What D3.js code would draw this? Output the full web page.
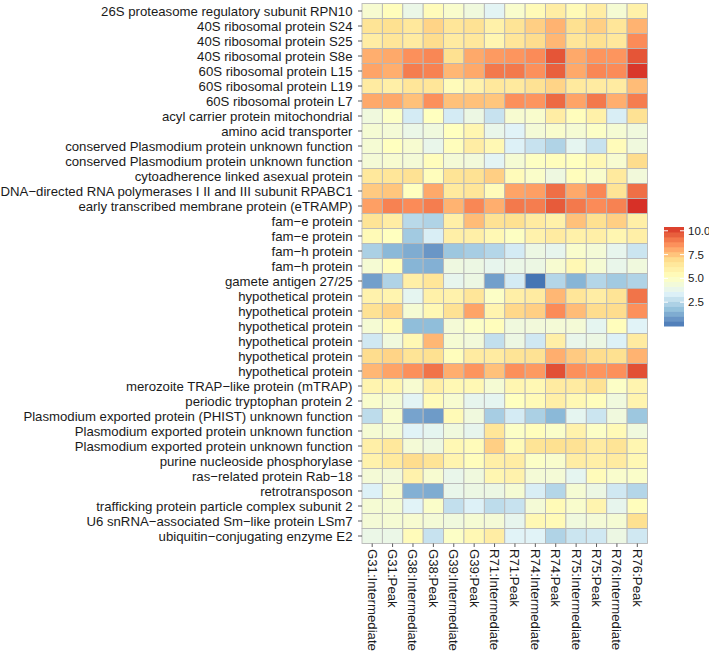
<!DOCTYPE html>
<html>
<head>
<meta charset="utf-8">
<script src="https://cdn.jsdelivr.net/npm/d3@7"></script>
<style>
  html, body { margin: 0; padding: 0; background: #ffffff; }
  svg { display: block; font-family: "Liberation Sans", Arial, sans-serif; }
</style>
</head>
<body>
<svg id="chart" width="709" height="654"></svg>
<script>
const samples = ["G31:Intermediate","G31:Peak","G38:Intermediate","G38:Peak","G39:Intermediate","G39:Peak",
  "R71:Intermediate","R71:Peak","R74:Intermediate","R74:Peak","R75:Intermediate","R75:Peak","R76:Intermediate","R76:Peak"];

const genes = [
  "26S proteasome regulatory subunit RPN10",
  "40S ribosomal protein S24",
  "40S ribosomal protein S25",
  "40S ribosomal protein S8e",
  "60S ribosomal protein L15",
  "60S ribosomal protein L19",
  "60S ribosomal protein L7",
  "acyl carrier protein mitochondrial",
  "amino acid transporter",
  "conserved Plasmodium protein unknown function",
  "conserved Plasmodium protein unknown function",
  "cytoadherence linked asexual protein",
  "DNA−directed RNA polymerases I II and III subunit RPABC1",
  "early transcribed membrane protein (eTRAMP)",
  "fam−e protein",
  "fam−e protein",
  "fam−h protein",
  "fam−h protein",
  "gamete antigen 27/25",
  "hypothetical protein",
  "hypothetical protein",
  "hypothetical protein",
  "hypothetical protein",
  "hypothetical protein",
  "hypothetical protein",
  "merozoite TRAP−like protein (mTRAP)",
  "periodic tryptophan protein 2",
  "Plasmodium exported protein (PHIST) unknown function",
  "Plasmodium exported protein unknown function",
  "Plasmodium exported protein unknown function",
  "purine nucleoside phosphorylase",
  "ras−related protein Rab−18",
  "retrotransposon",
  "trafficking protein particle complex subunit 2",
  "U6 snRNA−associated Sm−like protein LSm7",
  "ubiquitin−conjugating enzyme E2"
];

// expression values, one row per gene, one column per sample
const values = [
  [4.7,5.3,4.0,5.4,4.8,4.3,3.6,4.8,5.5,6.2,5.5,6.2,4.6,6.0],
  [6.7,6.9,6.5,7.2,6.6,6.8,6.0,6.7,7.3,7.9,6.9,7.3,6.6,7.9],
  [6.2,6.6,6.3,7.0,6.3,6.5,5.7,6.6,7.0,7.8,6.6,6.9,6.5,8.7],
  [8.0,8.1,8.6,8.8,6.9,8.1,8.4,8.5,8.7,9.8,8.1,8.5,8.5,9.8],
  [8.2,8.0,9.0,8.9,7.8,8.1,9.1,9.1,8.6,9.6,8.1,8.8,8.7,10.3],
  [6.3,6.1,6.6,6.6,5.4,5.9,6.5,6.4,6.8,7.2,6.4,6.3,6.3,7.7],
  [8.1,8.1,7.6,8.6,7.6,7.6,7.5,8.6,8.5,9.4,8.2,9.1,8.0,9.0],
  [4.3,5.0,3.2,5.2,3.2,4.1,2.9,4.7,4.8,6.2,5.3,6.0,3.3,6.8],
  [4.6,4.5,4.0,4.3,5.2,5.7,3.9,3.5,4.5,4.8,4.6,5.0,4.6,4.3],
  [4.6,5.2,4.7,3.9,5.3,6.2,5.6,3.4,2.9,2.4,3.7,2.9,5.4,4.3],
  [4.5,4.7,4.5,5.3,4.5,4.4,3.6,4.6,5.1,5.3,5.2,5.6,4.7,7.0],
  [6.5,6.6,6.8,5.3,6.7,6.8,7.3,5.4,4.9,4.2,5.3,4.8,6.4,4.4],
  [7.4,7.5,5.2,8.1,6.4,6.6,5.4,8.2,8.3,9.3,8.1,8.8,6.7,9.3],
  [8.3,8.9,8.7,9.0,7.9,8.8,8.0,9.1,9.0,9.7,9.1,8.7,8.9,10.4],
  [6.7,6.2,2.6,2.4,6.1,7.7,6.8,6.9,6.3,6.0,7.6,6.9,7.3,6.1],
  [5.5,5.2,2.1,3.3,6.1,6.1,5.6,5.1,5.9,6.3,6.0,6.1,5.7,6.1],
  [2.3,1.6,1.3,0.8,2.0,2.2,2.5,3.2,4.1,3.8,4.8,4.5,3.8,3.0],
  [4.6,5.3,1.5,1.4,4.2,4.1,3.8,4.0,4.1,4.7,5.6,4.6,3.9,4.3],
  [1.0,2.4,6.1,6.6,3.8,4.1,1.0,3.2,0.0,2.5,1.5,2.5,2.1,2.4],
  [5.9,5.8,3.7,6.0,5.9,6.6,5.0,6.1,6.3,7.8,6.6,6.2,6.7,9.2],
  [6.8,7.2,4.6,5.6,6.8,8.2,5.8,7.1,7.3,8.7,7.7,7.0,7.0,8.6],
  [4.6,5.4,1.7,1.7,4.5,5.0,5.3,4.3,4.4,4.5,4.5,3.7,5.3,3.5],
  [3.1,4.3,5.6,7.8,4.6,4.4,2.8,4.1,3.1,6.1,3.9,4.1,3.4,6.3],
  [7.0,7.2,6.7,6.9,5.3,6.3,6.3,6.7,6.8,8.0,7.4,7.0,6.9,7.9],
  [7.8,8.2,8.6,9.2,8.0,8.5,7.6,8.6,8.4,9.9,8.6,8.5,8.6,9.9],
  [5.8,5.7,4.7,6.1,5.6,5.6,4.6,5.7,5.6,6.3,6.3,6.8,5.0,5.8],
  [4.8,4.6,3.6,5.4,4.7,3.8,3.7,5.2,5.5,6.1,5.6,5.3,4.3,5.8],
  [2.7,4.8,1.1,0.9,5.5,4.3,2.2,3.2,2.3,1.6,3.7,3.0,4.3,2.0],
  [4.6,4.6,3.5,3.7,4.3,3.8,6.6,5.0,5.3,4.9,5.9,5.0,5.5,4.3],
  [6.1,6.5,4.5,4.2,5.6,5.4,7.3,5.5,6.7,6.9,6.8,6.3,6.7,5.7],
  [5.9,6.4,7.0,6.7,5.8,5.3,6.1,6.2,5.0,4.8,6.2,6.1,6.3,5.6],
  [4.5,4.4,5.9,4.7,3.9,4.3,5.7,5.9,4.5,4.5,3.7,5.4,4.8,4.9],
  [3.4,4.7,1.4,1.3,3.9,4.1,4.1,4.6,3.3,2.5,4.6,4.1,3.1,2.5],
  [4.6,4.6,3.5,4.9,2.8,3.4,2.7,2.9,4.5,5.5,4.8,5.8,3.8,5.3],
  [4.5,4.6,4.7,4.5,4.3,4.6,4.5,3.8,5.6,5.5,4.3,4.5,4.6,6.9],
  [4.0,4.0,5.4,2.9,5.0,5.6,6.2,3.5,3.5,2.4,3.0,3.1,4.1,3.1]
];

const legendBreaks = [2.5, 5.0, 7.5, 10.0];
const paletteColors = ["#4575b4","#91bfdb","#e0f3f8","#ffffbf","#fee090","#fc8d59","#d73027"];

const svg = d3.select("#chart");
const margin = {left: 362, top: 3.5, right: 709 - 647.5, bottom: 654 - 543.5};
const W = 709 - margin.left - margin.right;
const H = 654 - margin.top - margin.bottom;

const cells = [];
values.forEach((row, i) => row.forEach((v, j) => cells.push({r: i, c: j, v})));

const x = d3.scaleBand().domain(d3.range(samples.length)).range([margin.left, margin.left + W]);
const y = d3.scaleBand().domain(d3.range(genes.length)).range([margin.top, margin.top + H]);

const ext = d3.extent(cells, d => d.v);
const color = d3.scaleLinear()
  .domain(d3.range(paletteColors.length).map(k => ext[0] + (ext[1] - ext[0]) * k / (paletteColors.length - 1)))
  .range(paletteColors)
  .interpolate(d3.interpolateLab);

svg.append("g").selectAll("rect").data(cells).join("rect")
  .attr("x", d => x(d.c))
  .attr("y", d => y(d.r))
  .attr("width", x.bandwidth())
  .attr("height", y.bandwidth())
  .attr("fill", d => color(d.v))
  .attr("stroke", "#b8b8b8")
  .attr("stroke-width", 0.9);

// y axis
const yAxis = svg.append("g");
genes.forEach((g, i) => {
  const yy = y(i) + y.bandwidth() / 2;
  yAxis.append("line").attr("x1", margin.left - 4).attr("x2", margin.left)
    .attr("y1", yy).attr("y2", yy).attr("stroke", "#333").attr("stroke-width", 0.8);
  yAxis.append("text").attr("x", margin.left - 9.5).attr("y", yy)
    .attr("dy", "0.35em").attr("text-anchor", "end")
    .attr("font-size", 13.2).attr("fill", "#1a1a1a").text(g);
});

// x axis
const xAxis = svg.append("g");
const yb = margin.top + H;
samples.forEach((s, j) => {
  const xx = x(j) + x.bandwidth() / 2;
  xAxis.append("line").attr("x1", xx).attr("x2", xx).attr("y1", yb).attr("y2", yb + 3.5)
    .attr("stroke", "#333").attr("stroke-width", 0.8);
  xAxis.append("text")
    .attr("transform", `translate(${xx},${yb + 5.5}) rotate(90)`)
    .attr("dy", "0.35em").attr("text-anchor", "start")
    .attr("font-size", 13.2).attr("fill", "#1a1a1a").text(s);
});

// legend colorbar
const lx = 664, lw = 20, ltop = 227, lbot = 326;
const ly = d3.scaleLinear().domain(ext).range([lbot, ltop]);
const nbin = 20;
const lg = svg.append("g");
for (let k = 0; k < nbin; k++) {
  const v0 = ext[0] + (ext[1] - ext[0]) * k / nbin;
  const v1 = ext[0] + (ext[1] - ext[0]) * (k + 1) / nbin;
  lg.append("rect").attr("x", lx).attr("width", lw)
    .attr("y", ly(v1)).attr("height", ly(v0) - ly(v1) + 0.5)
    .attr("fill", color((v0 + v1) / 2));
}
legendBreaks.forEach(b => {
  const yy = ly(b);
  lg.append("line").attr("x1", lx).attr("x2", lx + 4).attr("y1", yy).attr("y2", yy).attr("stroke", "#fff").attr("stroke-width", 1);
  lg.append("line").attr("x1", lx + lw - 4).attr("x2", lx + lw).attr("y1", yy).attr("y2", yy).attr("stroke", "#fff").attr("stroke-width", 1);
  lg.append("text").attr("x", lx + lw + 4).attr("y", yy).attr("dy", "0.35em")
    .attr("font-size", 11.5).attr("fill", "#1a1a1a").text(b.toFixed(1));
});
</script>
</body>
</html>
